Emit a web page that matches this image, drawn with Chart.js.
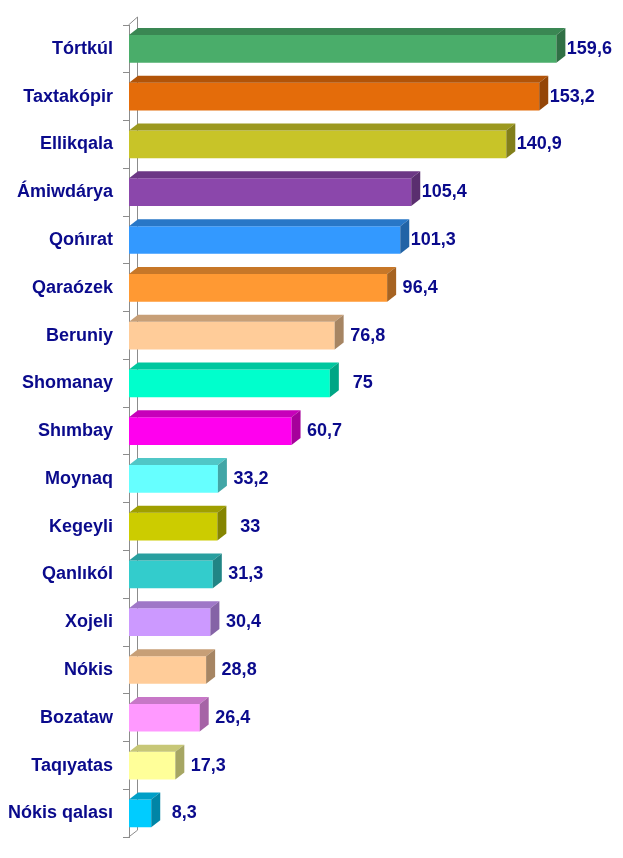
<!DOCTYPE html>
<html>
<head>
<meta charset="utf-8">
<script src="https://cdn.jsdelivr.net/npm/chart.js@4"></script>
<style>
  html, body { margin: 0; padding: 0; background: #fff; }
  #wrap { width: 623px; height: 858px; }
</style>
</head>
<body>
<div id="wrap"><canvas id="barChart"></canvas></div>
<script>
const labels = ['Tórtkúl', 'Taxtakópir', 'Ellikqala', 'Ámiwdárya', 'Qońırat', 'Qaraózek', 'Beruniy',
  'Shomanay', 'Shımbay', 'Moynaq', 'Kegeyli', 'Qanlıkól', 'Xojeli', 'Nókis', 'Bozataw', 'Taqıyatas', 'Nókis qalası'];
const values = [159.6, 153.2, 140.9, 105.4, 101.3, 96.4, 76.8, 75, 60.7, 33.2, 33, 31.3, 30.4, 28.8, 26.4, 17.3, 8.3];
const colors = ['#4aad6a', '#e46c0a', '#c8c428', '#8b47ab', '#3399ff', '#ff9933', '#ffcc99',
  '#00ffcc', '#ff00ee', '#66ffff', '#cccc00', '#33cccc', '#cc99ff', '#ffcc99', '#ff99ff', '#ffff99', '#00ccff'];

const textColor = '#0a0a8c';
const depthX = 9;
const depthY = -7;

function shade(hex, f) {
  const n = parseInt(hex.slice(1), 16);
  const r = Math.round(((n >> 16) & 255) * f);
  const g = Math.round(((n >> 8) & 255) * f);
  const b = Math.round((n & 255) * f);
  return 'rgb(' + r + ',' + g + ',' + b + ')';
}

// back wall of the 3d plot
const wallPlugin = {
  id: 'wall',
  beforeDatasetsDraw(chart) {
    const ctx = chart.ctx;
    const a = chart.chartArea;
    const x0 = a.left - 1;
    ctx.save();
    ctx.strokeStyle = '#8c8c8c';
    ctx.lineWidth = 1;
    ctx.beginPath();
    ctx.moveTo(x0 + 0.5, a.top);
    ctx.lineTo(x0 + depthX + 0.5, a.top + depthY - 1);
    ctx.lineTo(x0 + depthX + 0.5, a.bottom + depthY);
    ctx.lineTo(x0 + 0.5, a.bottom);
    ctx.stroke();
    ctx.restore();
  }
};

// top and side faces plus value labels
const bar3dPlugin = {
  id: 'bar3d',
  afterDatasetsDraw(chart) {
    const ctx = chart.ctx;
    const meta = chart.getDatasetMeta(0);
    ctx.save();
    meta.data.forEach((bar, i) => {
      const top = bar.y - bar.height / 2;
      const bottom = bar.y + bar.height / 2;
      const left = bar.base;
      const right = bar.x;
      ctx.fillStyle = shade(colors[i], 0.78);
      ctx.beginPath();
      ctx.moveTo(left, top);
      ctx.lineTo(left + depthX, top + depthY);
      ctx.lineTo(right + depthX, top + depthY);
      ctx.lineTo(right, top);
      ctx.closePath();
      ctx.fill();
      ctx.fillStyle = shade(colors[i], 0.65);
      ctx.beginPath();
      ctx.moveTo(right, top);
      ctx.lineTo(right + depthX, top + depthY);
      ctx.lineTo(right + depthX, bottom + depthY);
      ctx.lineTo(right, bottom);
      ctx.closePath();
      ctx.fill();

      ctx.fillStyle = textColor;
      ctx.font = 'bold 18px "Liberation Sans", Arial, sans-serif';
      ctx.textAlign = 'center';
      ctx.textBaseline = 'middle';
      ctx.fillText(String(values[i]).replace('.', ','), right + 33, bar.y);
    });
    ctx.restore();
  }
};

const data = {
  labels: labels,
  datasets: [{
    data: values,
    backgroundColor: colors,
    borderWidth: 0,
    barPercentage: 0.58,
    categoryPercentage: 1
  }]
};

const config = {
  type: 'bar',
  data: data,
  options: {
    indexAxis: 'y',
    responsive: true,
    maintainAspectRatio: false,
    animation: false,
    layout: { padding: { top: 25, bottom: 14, left: 0, right: 12 } },
    plugins: { legend: { display: false }, tooltip: { enabled: false } },
    scales: {
      x: { display: false, min: 0, max: 180 },
      y: {
        afterFit(scale) { scale.width = 129; },
        border: { display: true, color: '#8c8c8c' },
        grid: { drawOnChartArea: false, drawTicks: true, tickLength: 6, color: '#8c8c8c', offset: true },
        ticks: {
          padding: 10,
          color: textColor,
          font: { family: '"Liberation Sans", Arial, sans-serif', size: 18, weight: 'bold' }
        }
      }
    }
  },
  plugins: [wallPlugin, bar3dPlugin]
};

//eslint-disable-next-line
const barChart = new Chart(document.getElementById('barChart'), config);
</script>
</body>
</html>
